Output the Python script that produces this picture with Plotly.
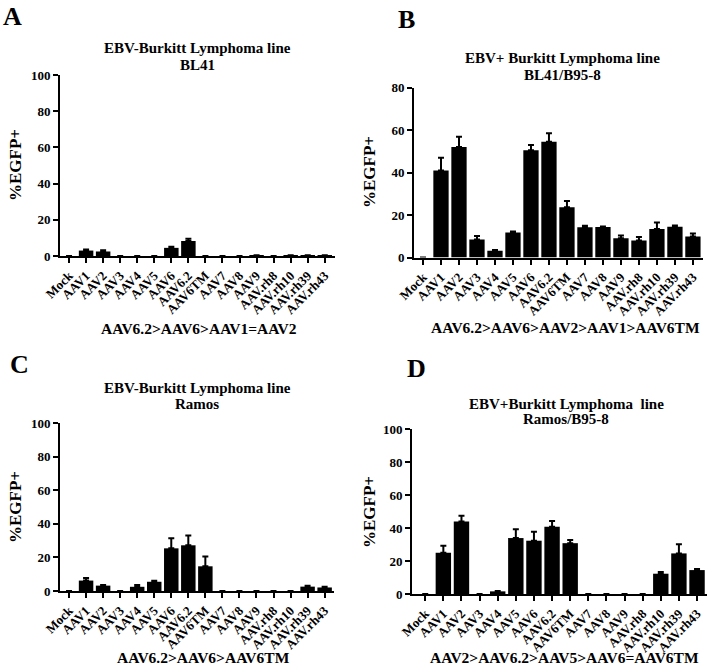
import plotly.graph_objects as go

W, H = 708, 665

categories = ["Mock", "AAV1", "AAV2", "AAV3", "AAV4", "AAV5", "AAV6", "AAV6.2", "AAV6TM",
              "AAV7", "AAV8", "AAV9", "AAV.rh8", "AAV.rh10", "AAV.rh39", "AAV.rh43"]

bl41 = [0, 3.0, 2.5, 0, 0, 0, 4.5, 8.3, 0, 0, 0, 0.3, 0, 0.3, 0.3, 0.3]
bl41_err = [0, 0.6, 0.7, 0, 0, 0, 0.6, 1.2, 0, 0, 0, 0.1, 0, 0.1, 0.1, 0.1]

bl41_b95 = [0, 41.0, 52.0, 8.5, 3.2, 11.8, 50.5, 54.5, 23.6, 14.2, 14.3, 9.1, 8.0, 13.4, 14.5, 9.9]
bl41_b95_err = [0, 6.0, 4.8, 1.6, 0.3, 0.4, 2.4, 4.0, 3.0, 0.8, 0.3, 1.2, 1.6, 3.1, 0.6, 1.4]

ramos = [0, 6.2, 3.2, 0, 2.5, 5.5, 25.4, 27.2, 14.7, 0, 0, 0, 0, 0, 2.6, 2.1]
ramos_err = [0, 1.5, 0.4, 0, 1.0, 0.6, 6.0, 5.8, 5.8, 0, 0, 0, 0, 0, 0.5, 0.4]

ramos_b95 = [0, 25.0, 43.9, 0, 1.6, 33.9, 32.3, 40.7, 30.8, 0, 0, 0, 0, 12.3, 24.6, 14.5]
ramos_b95_err = [0, 4.2, 3.5, 0, 0.2, 5.4, 5.4, 3.5, 1.9, 0, 0, 0, 0, 1.0, 5.6, 0.6]

panel_letters = ["A", "B", "C", "D"]
titles_1 = ["EBV-Burkitt Lymphoma line", "EBV+ Burkitt Lymphoma line",
            "EBV-Burkitt Lymphoma line", "EBV+Burkitt Lymphoma\u00a0 line"]
titles_2 = ["BL41", "BL41/B95-8", "Ramos", "Ramos/B95-8"]
rankings = ["AAV6.2>AAV6>AAV1=AAV2", "AAV6.2>AAV6>AAV2>AAV1>AAV6TM",
            "AAV6.2>AAV6>AAV6TM", "AAV2>AAV6.2>AAV5>AAV6=AAV6TM"]
y_max = [100, 80, 100, 100]
y_ticks = [[0, 20, 40, 60, 80, 100], [0, 20, 40, 60, 80],
           [0, 20, 40, 60, 80, 100], [0, 20, 40, 60, 80, 100]]
values = [bl41, bl41_b95, ramos, ramos_b95]
errors = [bl41_err, bl41_b95_err, ramos_err, ramos_b95_err]

# layout geometry in pixels: (x_left, x_right, y_top, y_bottom), x range
geom = [
    dict(x0=60, x1=335, yt=75, yb=256, xr=[-0.53, 15.6]),
    dict(x0=414, x1=703, yt=87.5, yb=257.5, xr=[-0.5, 15.56]),
    dict(x0=60, x1=334, yt=423, yb=591, xr=[-0.53, 15.55]),
    dict(x0=412, x1=707, yt=429, yb=594, xr=[-0.73, 15.55]),
]
letter_pos = [(12, 16), (406, 19), (19, 364), (416, 368)]
title_pos = [(197, 48, 65), (562, 58, 75), (197, 388, 404), (566, 404, 419)]
rank_pos = [(199, 328), (565, 327), (203, 657), (564, 657)]
ylab_pos = [(15, 165), (369, 172), (15, 507), (369, 512)]

FONT = "Liberation Serif"

def px_x(p):
    return p / W

def px_y(p):
    return 1 - p / H

fig = go.Figure()
annotations = []
layout = dict(template="none", width=W, height=H, margin=dict(l=0, r=0, t=0, b=0, pad=0, autoexpand=False),
              paper_bgcolor="white", plot_bgcolor="white", showlegend=False,
              bargap=0.15,
              font=dict(family=FONT, color="black"))

for i in range(4):
    g = geom[i]
    sfx = "" if i == 0 else str(i + 1)
    xa, ya = "x" + sfx, "y" + sfx
    err_up = [e if v > 0 else None for v, e in zip(values[i], errors[i])]
    err_dn = [0 if v > 0 else None for v in values[i]]
    fig.add_trace(go.Bar(
        x=categories, y=values[i], xaxis=xa, yaxis=ya,
        marker=dict(color="black", line=dict(width=0)),
        error_y=dict(type="data", symmetric=False, array=err_up,
                     arrayminus=err_dn,
                     color="black", thickness=2, width=3),
    ))
    layout["xaxis" + sfx] = dict(
        domain=[px_x(g["x0"]), px_x(g["x1"])], anchor=ya, automargin=False,
        range=g["xr"], type="category", categoryorder="array", categoryarray=categories,
        showline=True, linecolor="black", linewidth=2, mirror=False,
        ticks="outside", ticklen=5, tickwidth=2, tickcolor="black",
        tickangle=-45, showgrid=False, zeroline=False,
        tickfont=dict(family=FONT, size=13, color="black", weight="bold"),
    )
    layout["yaxis" + sfx] = dict(
        domain=[px_y(g["yb"]), px_y(g["yt"])], anchor=xa, automargin=False,
        range=[0, y_max[i]], tickvals=y_ticks[i],
        showline=True, linecolor="black", linewidth=2,
        ticks="outside", ticklen=5, tickwidth=2, tickcolor="black",
        showgrid=False, zeroline=False,
        tickfont=dict(family=FONT, size=13, color="black", weight="bold"),
    )
    lx, ly = letter_pos[i]
    annotations.append(dict(text=panel_letters[i], x=px_x(lx), y=px_y(ly), xref="paper", yref="paper",
                            showarrow=False, xanchor="center", yanchor="middle",
                            font=dict(family=FONT, size=26, color="black", weight="bold")))
    tx, ty1, ty2 = title_pos[i]
    annotations.append(dict(text=titles_1[i], x=px_x(tx), y=px_y(ty1), xref="paper", yref="paper",
                            showarrow=False, xanchor="center", yanchor="middle",
                            font=dict(family=FONT, size=15, color="black", weight="bold")))
    annotations.append(dict(text=titles_2[i], x=px_x(tx), y=px_y(ty2), xref="paper", yref="paper",
                            showarrow=False, xanchor="center", yanchor="middle",
                            font=dict(family=FONT, size=15, color="black", weight="bold")))
    rx, ry = rank_pos[i]
    annotations.append(dict(text=rankings[i], x=px_x(rx), y=px_y(ry), xref="paper", yref="paper",
                            showarrow=False, xanchor="center", yanchor="middle",
                            font=dict(family=FONT, size=15.5, color="black", weight="bold")))
    yx, yy = ylab_pos[i]
    annotations.append(dict(text="%EGFP+", x=px_x(yx), y=px_y(yy), xref="paper", yref="paper",
                            showarrow=False, xanchor="center", yanchor="middle", textangle=-90,
                            font=dict(family=FONT, size=17, color="black", weight="bold")))

layout["annotations"] = annotations
fig.update_layout(**layout)
fig.write_html("out.html", config={"displayModeBar": False},
               post_script="document.body.style.margin='0';document.body.style.overflow='hidden';")
